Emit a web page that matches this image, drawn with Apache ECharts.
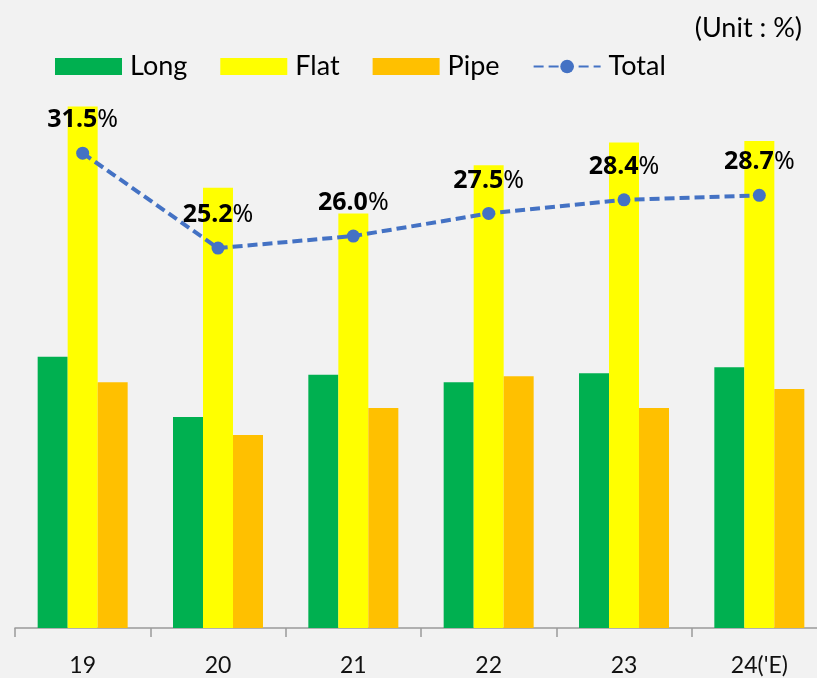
<!DOCTYPE html>
<html>
<head>
<meta charset="utf-8">
<script src="https://cdn.jsdelivr.net/npm/echarts@6/dist/echarts.min.js"></script>
<style>
  html, body { margin: 0; padding: 0; background: #f2f2f2; }
  #chart { width: 817px; height: 678px; }
</style>
</head>
<body>
<div id="chart"></div>
<script>
// Share of products by year (%)
const categories = ['19', '20', '21', '22', '23', "24('E)"];
const longValues = [18.0, 14.0, 16.8, 16.3, 16.9, 17.3];
const flatValues = [34.6, 29.2, 27.5, 30.7, 32.2, 32.3];
const pipeValues = [16.3, 12.8, 14.6, 16.7, 14.6, 15.85];
const totalValues = [31.5, 25.2, 26.0, 27.5, 28.4, 28.7];

const FONT = 'Lato, "Noto Sans", sans-serif';

const chart = echarts.init(document.getElementById('chart'), null, { renderer: 'canvas' });

const barBase = {
  type: 'bar',
  barWidth: 30,
  barGap: '0%'
};

chart.setOption({
  backgroundColor: '#f2f2f2',
  animation: false,
  title: {
    text: '(Unit : %)',
    right: 15,
    top: 15,
    padding: 0,
    textStyle: { fontFamily: FONT, fontSize: 27, fontWeight: 'normal', color: '#000' }
  },
  legend: {
    left: 55,
    top: 53,
    padding: 0,
    itemWidth: 67,
    itemHeight: 17,
    itemGap: 33,
    textStyle: { fontFamily: FONT, fontSize: 27, color: '#000', lineHeight: 27, padding: [0, 0, 0, 3] },
    data: [
      { name: 'Long', icon: 'rect' },
      { name: 'Flat', icon: 'rect' },
      { name: 'Pipe', icon: 'rect' },
      { name: 'Total' }
    ]
  },
  // the plot runs slightly past the right edge, so the last category is cut off
  grid: { left: 15, width: 812, top: 25, bottom: 50, containLabel: false, outerBoundsMode: 'none' },
  xAxis: {
    type: 'category',
    data: categories,
    boundaryGap: true,
    axisLine: { lineStyle: { color: '#9a9a9a', width: 1.5 } },
    axisTick: { show: true, length: 9, lineStyle: { color: '#9a9a9a', width: 1.5 } },
    axisLabel: {
      margin: 26,
      fontFamily: FONT,
      fontSize: 23,
      color: '#111',
      lineHeight: 23
    }
  },
  yAxis: {
    type: 'value',
    min: 0,
    max: 40,
    show: false,
    splitLine: { show: false }
  },
  series: [
    Object.assign({}, barBase, { name: 'Long', data: longValues, color: '#00b050' }),
    Object.assign({}, barBase, { name: 'Flat', data: flatValues, color: '#ffff00' }),
    Object.assign({}, barBase, { name: 'Pipe', data: pipeValues, color: '#ffc000' }),
    {
      name: 'Total',
      type: 'line',
      data: totalValues,
      color: '#4472c4',
      symbol: 'circle',
      symbolSize: 13,
      z: 5,
      lineStyle: { color: '#4472c4', width: 4, type: [10, 5] },
      itemStyle: { color: '#4472c4' },
      label: {
        show: true,
        position: 'top',
        distance: 14,
        formatter: p => '{a|' + p.value.toFixed(1) + '}{b|%}',
        rich: {
          a: { fontFamily: '"Noto Sans", sans-serif', fontSize: 25, fontWeight: 'bold', color: '#000' },
          b: { fontFamily: '"Noto Sans", sans-serif', fontSize: 25, fontWeight: 'normal', color: '#000' }
        }
      }
    }
  ]
});
</script>
</body>
</html>
